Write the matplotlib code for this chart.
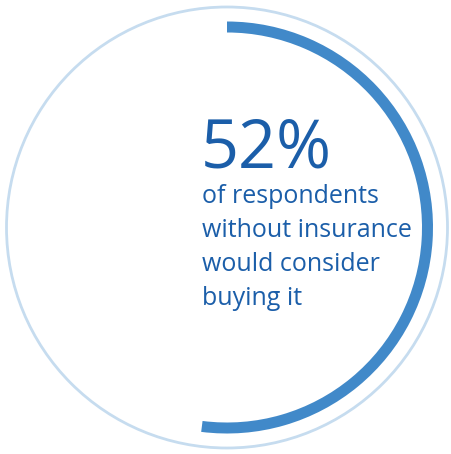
import matplotlib.pyplot as plt
from matplotlib.patches import Circle, Wedge

# data
share_pct = 52
headline = '52%'
caption_lines = ['of respondents', 'without insurance', 'would consider', 'buying it']

RING_COLOR = '#c6dcef'
ARC_COLOR = '#4189c9'
TEXT_COLOR = '#1b5ea9'

W, H = 452, 454
fig = plt.figure(figsize=(W / 100, H / 100), dpi=100)
ax = fig.add_axes([0, 0, 1, 1])
ax.set_xlim(0, W)
ax.set_ylim(0, H)
ax.set_aspect('equal')
ax.axis('off')

cx, cy = 227, H - 227.5

# thin background ring
ax.add_patch(Circle((cx, cy), 220.5, fill=False, edgecolor=RING_COLOR, linewidth=2))

# thick arc, clockwise from top
sweep = 360 * share_pct / 100
ax.add_patch(Wedge((cx, cy), 206, 90 - sweep, 90, width=11,
                   facecolor=ARC_COLOR, edgecolor='none'))

plt.rcParams['font.family'] = ['Open Sans', 'DejaVu Sans']

ax.text(201, H - 168, headline, fontsize=48, color=TEXT_COLOR,
        ha='left', va='baseline')
for i, line in enumerate(caption_lines):
    ax.text(202, H - (203 + i * 34), line, fontsize=18, color=TEXT_COLOR,
            ha='left', va='baseline')

fig.savefig('out.png', dpi=100)
